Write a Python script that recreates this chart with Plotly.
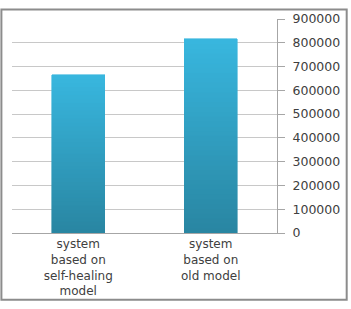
import plotly.graph_objects as go

categories = ["system<br>based on<br>self-healing<br>model", "system<br>based on<br>old model"]
values = [665000, 817000]
tick_vals = [0, 100000, 200000, 300000, 400000, 500000, 600000, 700000, 800000, 900000]
tick_text = [str(v) for v in tick_vals]

# vertical gradient emulated with stacked slices of each bar
N = 40
bottom = (0x29, 0x86, 0xA2)
top = (0x38, 0xB6, 0xDE)

fig = go.Figure()
for i in range(N):
    t = i / (N - 1)
    c = tuple(round(bottom[k] + (top[k] - bottom[k]) * t) for k in range(3))
    color = "rgb(%d,%d,%d)" % c
    fig.add_trace(go.Bar(
        x=categories,
        y=[v / N for v in values],
        width=0.4,
        marker=dict(color=color, line=dict(width=0.6, color=color)),
        showlegend=False,
        hoverinfo="skip",
    ))

fig.update_layout(
    barmode="stack",
    width=351, height=309,
    margin=dict(l=12, r=73, t=11, b=72),
    paper_bgcolor="white", plot_bgcolor="white",
    font=dict(family="DejaVu Sans, sans-serif", size=12, color="#404040"),
    xaxis=dict(
        showgrid=False, showline=True, linecolor="#a6a6a6", linewidth=1,
        ticks="", tickfont=dict(family="DejaVu Sans, sans-serif", size=12, color="#404040"),
    ),
    yaxis=dict(
        side="right", range=[0, 900000], tickvals=tick_vals, ticktext=tick_text,
        showgrid=True, gridcolor="#c8c8c8", gridwidth=1,
        showline=True, linecolor="#a6a6a6", linewidth=1,
        ticks="outside", ticklen=7, tickcolor="#a6a6a6", ticklabelstandoff=5,
        tickfont=dict(family="DejaVu Sans, sans-serif", size=12.5, color="#404040"), zeroline=False,
    ),
    shapes=[dict(
        type="rect", xref="paper", yref="paper",
        x0=-0.04, x1=1.263, y0=-0.312, y1=1.044,
        line=dict(color="#8c8c8c", width=2), fillcolor="rgba(0,0,0,0)", layer="above",
    )],
)

fig.write_html(
    "out.html",
    config={"displayModeBar": False},
    post_script="document.body.style.margin='0';document.body.style.overflow='hidden';",
)
